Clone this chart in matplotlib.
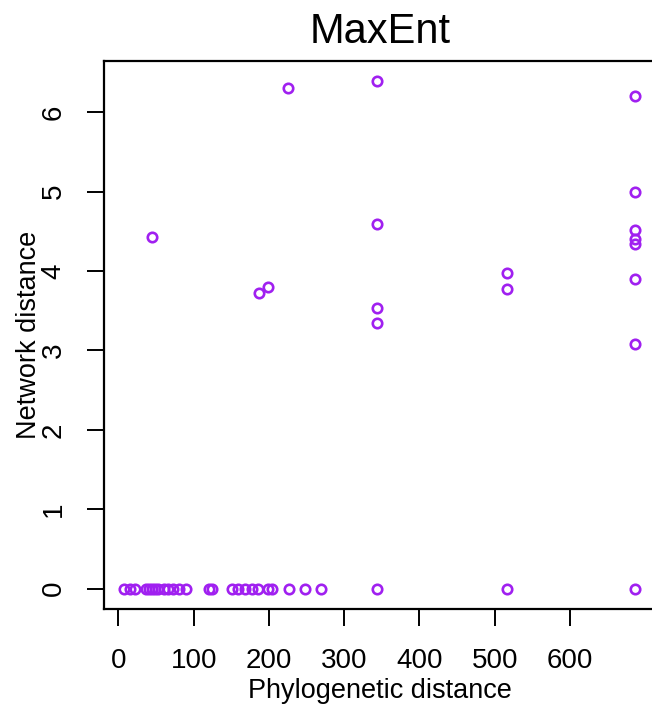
import numpy as np
from matplotlib import pyplot as plt

plt.rcParams['font.family'] = ['Liberation Sans', 'DejaVu Sans']

# points
phylo_dist = [8, 15, 22, 36, 40, 44, 48, 52, 60, 66, 73, 80, 90, 121, 125,
              151, 159, 168, 178, 186, 199, 204, 227, 248, 269, 343, 516, 687,
              45, 225, 343, 343, 343, 343, 187, 199, 516, 516,
              687, 687, 687, 687, 687, 687, 687]
net_dist = [0] * 28 + [4.43, 6.30, 6.39, 4.59, 3.53, 3.35, 3.73, 3.80, 3.97, 3.78,
                       6.20, 5.00, 4.52, 4.40, 4.34, 3.90, 3.08]

x = np.array(phylo_dist, dtype=float)
y = np.array(net_dist, dtype=float)

fig = plt.figure(figsize=(6.52, 7.06), dpi=100)
ax = fig.add_axes([0.1595, 0.1374, 0.8465, 0.7762])

ax.plot(x, y, linestyle='none', marker='o', markersize=6.8,
        markerfacecolor='none', markeredgecolor='#A020F0', markeredgewidth=1.9)

# R-style 4% padding
xr = x.max() - x.min()
yr = y.max() - y.min()
ax.set_xlim(x.min() - 0.04 * xr, x.max() + 0.04 * xr)
ax.set_ylim(y.min() - 0.04 * yr, y.max() + 0.04 * yr)

ax.set_xticks([0, 100, 200, 300, 400, 500, 600])
ax.set_yticks([0, 1, 2, 3, 4, 5, 6])
ax.tick_params(axis='both', length=12, width=1.4, labelsize=20, direction='out')
ax.tick_params(axis='x', pad=16)
ax.tick_params(axis='y', pad=15)
plt.setp(ax.get_yticklabels(), rotation=90, va='center')

for s in ax.spines.values():
    s.set_linewidth(1.6)

ax.set_title('MaxEnt', fontsize=30, pad=13)
ax.set_xlabel('Phylogenetic distance', fontsize=19.5, labelpad=3)
ax.set_ylabel('Network distance', fontsize=19.5)
ax.yaxis.set_label_coords(-0.112, 0.5)

fig.savefig('out.png', dpi=100)
